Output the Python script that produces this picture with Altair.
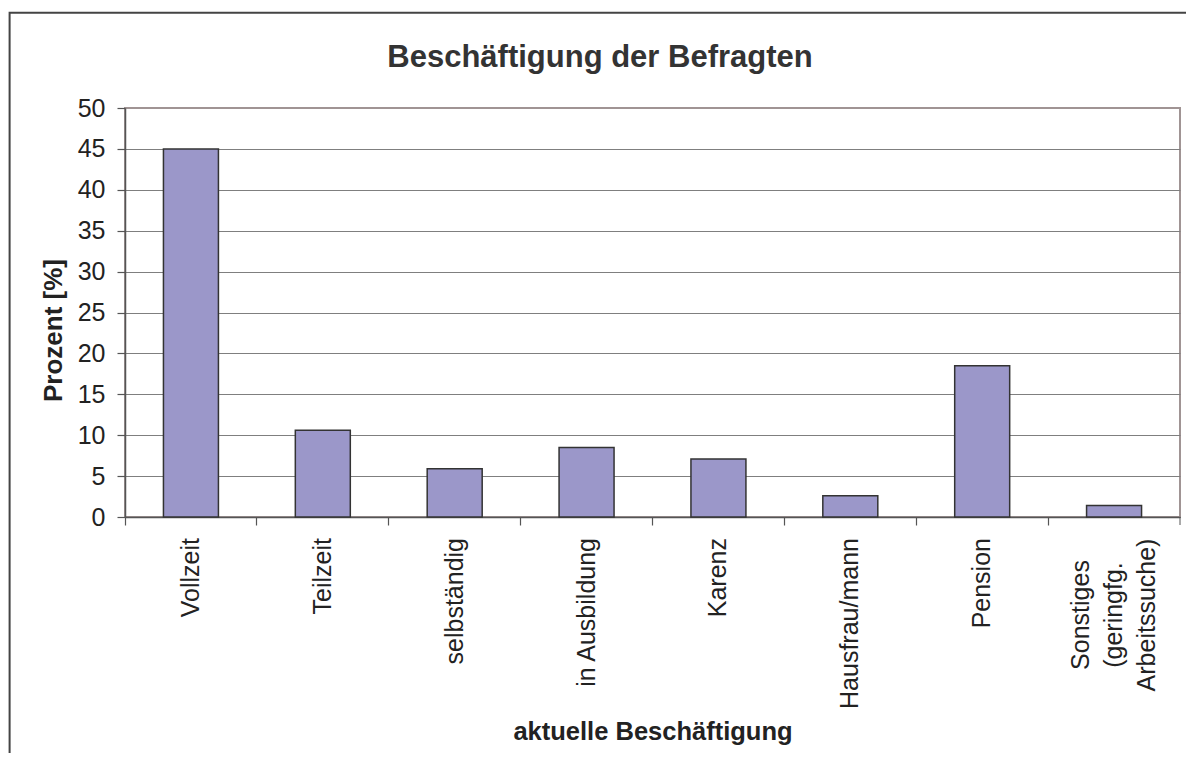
import altair as alt
import pandas as pd

categories = ["Vollzeit", "Teilzeit", "selbständig", "in Ausbildung", "Karenz",
              "Hausfrau/mann", "Pension", "Sonstiges"]
labels = ["Vollzeit", "Teilzeit", "selbständig", "in Ausbildung", "Karenz",
          "Hausfrau/mann", "Pension", "Sonstiges\n(geringfg.\nArbeitssuche)"]
values = [45.0, 10.6, 5.9, 8.5, 7.1, 2.6, 18.5, 1.4]
y_ticks = [0, 5, 10, 15, 20, 25, 30, 35, 40, 45, 50]
chart_title = "Beschäftigung der Befragten"

W, H = 1055, 409
FONT = "Liberation Sans"
TXT = "#222222"
AXC = "#555555"

df = pd.DataFrame({"cat": categories, "label": labels, "value": values,
                   "multi": ["\n" in l for l in labels]})

xscale = alt.Scale(domain=categories, paddingInner=0, paddingOuter=0)
x_enc = alt.X("cat:N", scale=xscale, sort=categories,
              axis=alt.Axis(labels=False, bandPosition=0, tickSize=8, grid=False,
                            title="aktuelle Beschäftigung", titleFont=FONT,
                            titleFontSize=25.5, titleFontWeight="bold", titleColor=TXT,
                            titleX=W / 2, titleY=222, titleBaseline="alphabetic",
                            titleAlign="center"))

base = alt.Chart(df)

bars = base.mark_bar(width=alt.RelativeBandSize(0.417), color="#9b97c9",
                     stroke="#333333", strokeWidth=1.5).encode(
    x=x_enc,
    y=alt.Y("value:Q", scale=alt.Scale(domain=[0, 50], nice=False),
            axis=alt.Axis(values=y_ticks, tickSize=8, labelPadding=12,
                          labelFont=FONT, labelFontSize=25, labelColor=TXT,
                          grid=True,
                          gridColor=alt.condition("datum.value == 50", alt.value("#a09494"), alt.value("#7f7f7f")),
                          title="Prozent [%]", titleFont=FONT, titleFontSize=26,
                          titleFontWeight="bold", titleColor=TXT, titleAngle=270,
                          titleX=-64, titleY=222, titleBaseline="alphabetic",
                          titleAlign="center")),
)

lab_single = base.transform_filter("!datum.multi").mark_text(
    angle=270, align="right", baseline="middle", font=FONT, fontSize=25, color=TXT
).encode(x=x_enc, y=alt.value(H + 21), text="label:N")

lab_multi = base.transform_filter("datum.multi").mark_text(
    angle=270, align="center", baseline="middle", font=FONT, fontSize=25, color=TXT,
    lineBreak="\n", lineHeight=33, dy=-33
).encode(x=x_enc, y=alt.value(H + 98), text="label:N")

one = alt.Data(values=[{}])
title_txt = alt.Chart(alt.Data(values=[{"t": chart_title}])).mark_text(
    font=FONT, fontSize=31, fontWeight="bold", color="#333333",
    align="center", baseline="alphabetic"
).encode(x=alt.value(475), y=alt.value(-41), text="t:N")

frame = alt.Chart(one).mark_rect(filled=False, stroke="#444444", strokeWidth=2).encode(
    x=alt.value(-115.4), x2=alt.value(W + 60), y=alt.value(-95.2), y2=alt.value(H + 320))
end_tick = alt.Chart(one).mark_rule(color=AXC, strokeWidth=1).encode(
    x=alt.value(W), y=alt.value(H), y2=alt.value(H + 8))

chart = alt.layer(bars, lab_single, lab_multi, end_tick, title_txt, frame).properties(
    width=W, height=H,
    autosize=alt.AutoSizeParams(type="none"),
    padding={"left": 117, "top": 100, "right": 6, "bottom": 236},
).configure_view(stroke="#a09494", strokeWidth=2).configure_axis(
    domainColor=AXC, tickColor=AXC, domainWidth=1.5, tickWidth=1.2
)

chart.save("out.html", embed_options={"renderer": "svg", "actions": False})
